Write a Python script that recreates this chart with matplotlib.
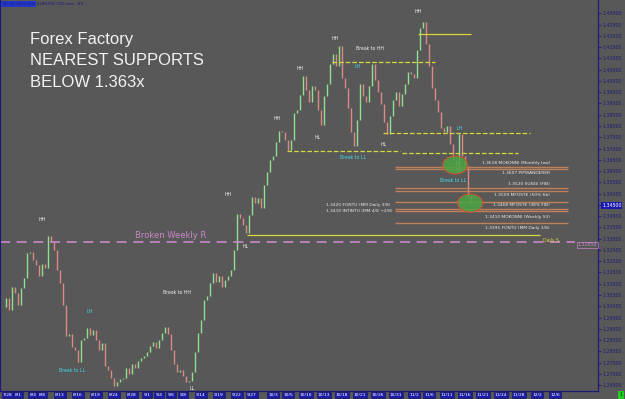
"""EURUSD 240 min chart with nearest support levels (Forex Factory screenshot)."""

import matplotlib
matplotlib.use("Agg")
import matplotlib.pyplot as plt
from matplotlib.patches import Ellipse

# closing prices, one bar every 3 px of the original screenshot
closes = [
    1.2997, 1.3037, 1.2984, 1.3086, 1.3059, 1.3006, 1.3081, 1.3126, 1.3236, 1.3241,
    1.3205, 1.3183, 1.3134, 1.3188, 1.3170, 1.3312, 1.3285, 1.3250, 1.3161, 1.3103,
    1.3006, 1.2868, 1.2877, 1.2819, 1.2806, 1.2753, 1.2850, 1.2859, 1.2904, 1.2873,
    1.2895, 1.2850, 1.2806, 1.2837, 1.2735, 1.2717, 1.2682, 1.2646, 1.2664, 1.2677,
    1.2682, 1.2726, 1.2700, 1.2744, 1.2726, 1.2757, 1.2771, 1.2779, 1.2797, 1.2824,
    1.2842, 1.2815, 1.2850, 1.2882, 1.2908, 1.2877, 1.2806, 1.2744, 1.2708, 1.2717,
    1.2691, 1.2664, 1.2669, 1.2708, 1.2797, 1.2882, 1.2939, 1.3028, 1.3046, 1.3103,
    1.3148, 1.3108, 1.3134, 1.3086, 1.3117, 1.3134, 1.3161, 1.3250, 1.3409, 1.3392,
    1.3361, 1.3325, 1.3405, 1.3485, 1.3458, 1.3480, 1.3436, 1.3538, 1.3596, 1.3649,
    1.3667, 1.3729, 1.3778, 1.3773, 1.3738, 1.3693, 1.3738, 1.3858, 1.3871, 1.3937,
    1.4022, 1.3960, 1.3906, 1.3977, 1.3960, 1.3871, 1.3804, 1.3933, 1.3986, 1.4075,
    1.4119, 1.4066, 1.4155, 1.4013, 1.3969, 1.3880, 1.3773, 1.3711, 1.3827, 1.3986,
    1.3933, 1.3906, 1.3977, 1.4075, 1.4004, 1.3951, 1.3898, 1.3818, 1.3764, 1.3844,
    1.3915, 1.3951, 1.3889, 1.3942, 1.3986, 1.4040, 1.4031, 1.4013, 1.4137, 1.4235,
    1.4261, 1.4164, 1.4066, 1.3969, 1.3915, 1.3862, 1.3791, 1.3773, 1.3800, 1.3720,
    1.3649, 1.3596, 1.3764, 1.3667, 1.3623, 1.3489, 1.3454,
]

date_pos = [1.5, 5, 10, 13, 19, 25, 31, 37, 43, 48, 52, 56, 60, 66, 72, 78, 83,
            90, 95, 101, 107, 113, 119, 125, 131, 137, 142, 148, 154, 160, 166,
            172, 178, 184]
date_labels = ["7/28", "8/1", "8/4", "8/8", "8/13", "8/16", "8/19", "8/24", "8/28",
               "9/1", "9/4", "9/6", "9/8", "9/14", "9/19", "9/22", "9/27", "10/3",
               "10/5", "10/10", "10/13", "10/18", "10/21", "10/26", "10/31", "11/2",
               "11/6", "11/11", "11/16", "11/21", "11/24", "11/28", "12/2", "12/6"]

# trader support levels
support_prices = [1.3618, 1.3609, 1.3525, 1.3512, 1.3464, 1.3432, 1.3423, 1.3370]
support_start, support_end = 130.7, 188.3
support_texts = ["1.3618 MOKONNI (Monthly low)", "1.3607 PIPWANDERER", "1.3520 SUNGI (FIB)",
                 "1.3509 MFOSTE (50% fib)", "1.3468 MFOSTE (38% FIB)",
                 "1.3410 MOKONNI (Weekly S3)", "1.3395 FONTU (MM Daily 3/8)"]
support_text_y = [1.3636, 1.3591, 1.3543, 1.3494, 1.3449, 1.3396, 1.3347]
left_texts = ["1.3420 FONTU (MM Daily 3/8)", "1.3410 INTINTU (MM 4/8 +2/8)"]
left_text_y = [1.3449, 1.3422]

# structure lines: (price, start bar, end bar, style)
struct_lines = [
    (1.4208, 138.3, 156.0, "-"),
    (1.4084, 109.7, 144.0, "--"),
    (1.3769, 126.7, 175.7, "--"),
    (1.3689, 94.7, 132.3, "--"),
    (1.3680, 133.0, 171.7, "--"),
    (1.3316, 81.3, 179.0, "-"),
]
weekly_r = 1.3285

# swing labels: (text, bar, price, cyan?)
swing_labels = [
    ("HH", 13, 1.3387, False), ("LH", 28.7, 1.2975, True), ("Break to LL", 23, 1.2717, True),
    ("Break to HH", 58, 1.3063, False), ("LL", 63, 1.2637, False), ("HH", 75, 1.3498, False),
    ("HL", 81, 1.3263, False), ("HH", 91.3, 1.3835, False), ("HL", 105, 1.3751, False),
    ("HH", 99, 1.4057, False), ("HH", 110.7, 1.4190, False), ("Break to HH", 122.3, 1.4142, False),
    ("LH", 118.3, 1.4066, True), ("Break to LL", 116.7, 1.3662, True), ("HL", 126.7, 1.3716, False),
    ("HH", 138.3, 1.4306, False), ("LH", 152, 1.3791, True), ("Break to LL", 150, 1.3560, True),
]

# highlighted zones (bar, price)
zones = [(150.7, 1.3627), (155.7, 1.3458)]

BG = "#585858"
NAVY = "#1c1c78"
GREEN = "#8fe08f"
RED = "#dc8a84"
YELLOW = "#d8d83c"
PURPLE = "#c987c9"
BROWN = "#c0805a"
CYAN = "#40d8e8"

fig = plt.figure(figsize=(6.25, 3.99), dpi=100, facecolor=BG)
ax = fig.add_axes([0, 8 / 399, 598 / 625, 391 / 399], facecolor=BG)

opens = [closes[0]] + closes[:-1]
for i, (o, c) in enumerate(zip(opens, closes)):
    ax.vlines(i, min(o, c), max(o, c), color=GREEN if c >= o else RED, lw=1.0)

for price in support_prices:
    ax.hlines(price, support_start, support_end, color=BROWN, lw=1.0)
for price, x0, x1, ls in struct_lines:
    ax.hlines(price, x0, x1, color=YELLOW, lw=0.9, linestyles=ls)
ax.hlines(weekly_r, -1, 190.7, color=PURPLE, lw=1.2, linestyles=(0, (6, 4)))

for x, y in zones:
    ax.add_patch(Ellipse((x, y), 8.3, 0.0080, facecolor="#4aa444", edgecolor="#e04a2a",
                         lw=0.8, alpha=0.85, zorder=3))

for txt, y in zip(support_texts, support_text_y):
    ax.text(182.3, y, txt, color="#e8e8e8", fontsize=3.2, ha="right", va="center")
for txt, y in zip(left_texts, left_text_y):
    ax.text(107.7, y, txt, color="#e8e8e8", fontsize=3.2, ha="left", va="center")

for txt, x, y, cyan in swing_labels:
    ax.text(x, y, txt, color=CYAN if cyan else "#f0f0f0", fontsize=3.3,
            ha="center", va="center")

ax.text(44, 1.3316, "Broken Weekly R", color=PURPLE, fontsize=6, va="center")
ax.text(180, 1.3294, "Daily S", color=YELLOW, fontsize=3.3, va="center")
ax.text(194.7, 1.3272, "1.32858", color=PURPLE, fontsize=3.3, ha="center", va="center",
        bbox=dict(boxstyle="square,pad=0.2", fc="none", ec=PURPLE, lw=0.5))

for k, line in enumerate(["Forex Factory", "NEAREST SUPPORTS", "BELOW 1.363x"]):
    ax.text(0.05, 0.898 - 0.054 * k, line, transform=ax.transAxes, color="#f2f2f2",
            fontsize=12, family=["Liberation Sans", "DejaVu Sans"], va="center")

fig.text(2 / 625, 1 - 4 / 399, "TF: 2h 39m 23s", color=NAVY, fontsize=3.2, va="center",
         bbox=dict(boxstyle="square,pad=0.15", fc="#2436c8", ec="none"))
fig.text(37 / 625, 1 - 4 / 399, "EURUSD 240 min  #9", color=NAVY, fontsize=3.2, va="center")
fig.text(621 / 625, 4 / 399, "1", color="#103010", fontsize=3.5, ha="center", va="center",
         bbox=dict(boxstyle="square,pad=0.25", fc="#20d020", ec="none"))

ax.set_xlim(-1, 198.3)
ax.set_ylim(1.2624, 1.4359)

ax.yaxis.tick_right()
yt = [1.265 + 0.005 * k for k in range(34)]
ax.set_yticks(yt)
ax.set_yticklabels([f"{v:.5f}" for v in yt])
ax.tick_params(axis="y", colors=NAVY, labelsize=3.4, length=2, width=0.6, pad=1)
for lab, v in zip(ax.get_yticklabels(), yt):
    if abs(v - 1.345) < 1e-9:
        lab.set_color("white")
        lab.set_bbox(dict(boxstyle="square,pad=0.15", fc="#1a1ab0", ec="none"))

ax.set_xticks(date_pos)
ax.set_xticklabels(date_labels)
ax.tick_params(axis="x", colors="white", labelsize=3.2, length=0, pad=1.5)
for lab in ax.get_xticklabels():
    lab.set_bbox(dict(boxstyle="square,pad=0.25", fc="#1c1ca8", ec="#101060", lw=0.4))

for side in ["left", "right", "bottom"]:
    ax.spines[side].set_color(NAVY)
    ax.spines[side].set_linewidth(0.9)
ax.spines["top"].set_visible(False)

fig.savefig("out.png", dpi=100, facecolor=BG)
